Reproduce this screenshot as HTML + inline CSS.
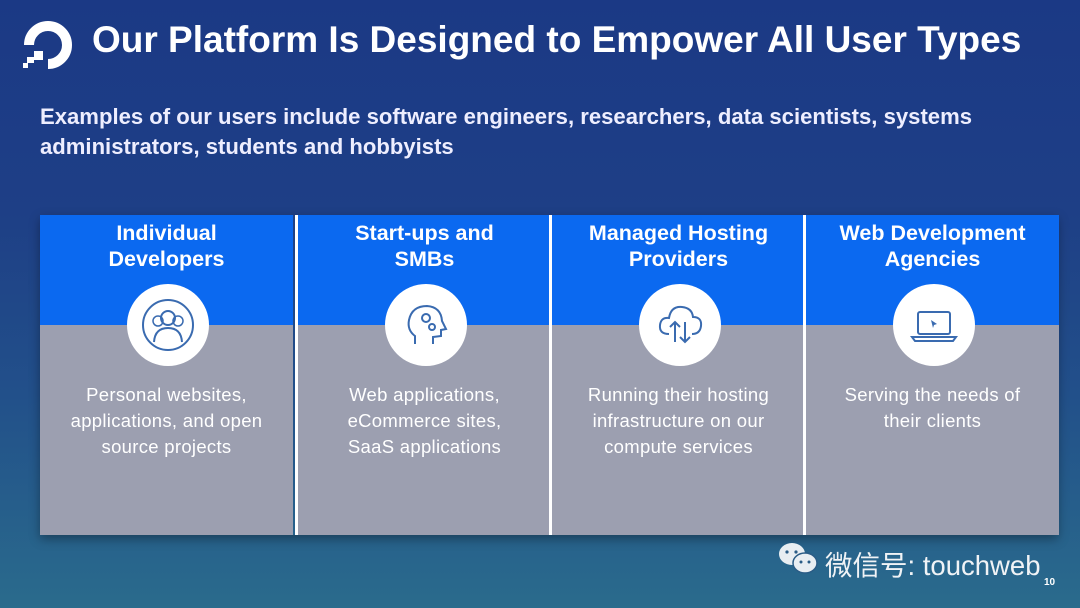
<!DOCTYPE html>
<html><head><meta charset="utf-8"><style>
body{margin:0;width:1080px;height:608px;overflow:hidden;font-family:"Liberation Sans",sans-serif;}
.bg{position:absolute;inset:0;width:1080px;height:608px;background:linear-gradient(180deg,#1b3985 0%,#1e3f86 35%,#22508a 65%,#2a6b8c 100%);}
.t{position:absolute;color:#fff;white-space:nowrap;}
.panel{position:absolute;left:40px;top:215px;width:1018px;height:320px;box-shadow:0 4px 10px rgba(0,0,0,.35);}
.col{position:absolute;top:0;width:253px;height:320px;}
.top{position:absolute;left:0;top:0;width:100%;height:110px;background:#0b69f0;}
.bot{position:absolute;left:0;top:110px;width:100%;height:210px;background:#9c9fb0;}
.h{position:absolute;top:5px;width:100%;text-align:center;color:#fff;font-weight:bold;font-size:21.5px;line-height:26px;}
.d{position:absolute;top:167px;width:100%;text-align:center;color:#fff;font-size:18.5px;line-height:26px;letter-spacing:0.3px;}
.c{position:absolute;left:87px;top:69px;width:82px;height:82px;border-radius:50%;background:#fff;}
.sep{position:absolute;top:0;width:3px;height:320px;background:#fff;}
</style></head><body>
<div class="bg"></div>
<svg style="position:absolute;left:0;top:0" width="90" height="80" viewBox="0 0 90 80">
<path d="M29 45 A19 19 0 1 1 48 64" fill="none" stroke="#fff" stroke-width="10"/>
<rect x="34" y="51" width="9" height="9" fill="#fff"/><rect x="27" y="57" width="7" height="6" fill="#fff"/><rect x="23" y="63" width="5" height="5" fill="#fff"/>
</svg>
<div class="t" style="left:92px;top:19px;font-size:37px;font-weight:bold;">Our Platform Is Designed to Empower All User Types</div>
<div class="t" style="left:40px;top:102px;font-size:22.1px;font-weight:bold;line-height:30px;color:#eef">Examples of our users include software engineers, researchers, data scientists, systems<br>administrators, students and hobbyists</div>
<div class="panel">
<div class="col" style="left:0"><div class="top"></div><div class="bot"></div><div class="h">Individual<br>Developers</div><div class="c"><svg width="82" height="82"><circle cx="41" cy="41" r="25" fill="none" stroke="#3a6bb0" stroke-width="2"/><circle cx="41" cy="34" r="7" fill="none" stroke="#3a6bb0" stroke-width="2"/><path d="M27 58 Q28 44 41 44 Q54 44 55 58" fill="none" stroke="#3a6bb0" stroke-width="2"/><circle cx="31" cy="37" r="5" fill="none" stroke="#3a6bb0" stroke-width="1.5"/><circle cx="51" cy="37" r="5" fill="none" stroke="#3a6bb0" stroke-width="1.5"/></svg></div><div class="d">Personal websites,<br>applications, and open<br>source projects</div></div>
<div class="sep" style="left:255px"></div>
<div class="col" style="left:258px"><div class="top"></div><div class="bot"></div><div class="h">Start-ups and<br>SMBs</div><div class="c"><svg width="82" height="82"><path d="M30 60 L30 52 Q22 46 24 36 Q27 22 42 22 Q56 23 57 37 L61 45 L56 46 L56 52 L48 53 L48 60" fill="none" stroke="#3a6bb0" stroke-width="2"/><circle cx="41" cy="34" r="4" fill="none" stroke="#3a6bb0" stroke-width="2"/><circle cx="47" cy="43" r="3" fill="none" stroke="#3a6bb0" stroke-width="2"/></svg></div><div class="d">Web applications,<br>eCommerce sites,<br>SaaS applications</div></div>
<div class="sep" style="left:509px"></div>
<div class="col" style="left:512px"><div class="top"></div><div class="bot"></div><div class="h">Managed Hosting<br>Providers</div><div class="c"><svg width="82" height="82"><path d="M30 50 Q20 50 21 41 Q22 33 30 34 Q32 22 43 23 Q53 24 54 33 Q63 33 62 42 Q61 50 53 50" fill="none" stroke="#3a6bb0" stroke-width="2"/><path d="M36 58 V38 M31 43 L36 38 L41 43 M46 38 V58 M41 53 L46 58 L51 53" fill="none" stroke="#3a6bb0" stroke-width="2"/></svg></div><div class="d">Running their hosting<br>infrastructure on our<br>compute services</div></div>
<div class="sep" style="left:763px"></div>
<div class="col" style="left:766px"><div class="top"></div><div class="bot"></div><div class="h">Web Development<br>Agencies</div><div class="c"><svg width="82" height="82"><rect x="25" y="28" width="32" height="22" rx="2" fill="none" stroke="#3a6bb0" stroke-width="2"/><path d="M19 53 H63 L60 57 H22Z" fill="none" stroke="#3a6bb0" stroke-width="2"/><path d="M38 36 L44 40 L41 41 L40 44Z" fill="#3a6bb0"/></svg></div><div class="d">Serving the needs of<br>their clients</div></div>
</div>
<svg style="position:absolute;left:777px;top:540px" width="44" height="36"><ellipse cx="15" cy="14" rx="13" ry="11" fill="#e8eef2"/><ellipse cx="28" cy="23" rx="12" ry="10" fill="#e8eef2" stroke="#2a5c86" stroke-width="1.5"/><circle cx="10" cy="12" r="1.6" fill="#2a5c86"/><circle cx="19" cy="12" r="1.6" fill="#2a5c86"/><circle cx="24" cy="22" r="1.5" fill="#2a5c86"/><circle cx="32" cy="22" r="1.5" fill="#2a5c86"/></svg>
<div class="t" style="left:825px;top:543px;font-size:27.5px;font-family:'Liberation Sans','Noto Sans CJK SC',sans-serif;color:#f0f3f6">微信号: touchweb</div>
<div class="t" style="left:1044px;top:577px;font-size:10px;font-weight:bold">10</div>
</body></html>
